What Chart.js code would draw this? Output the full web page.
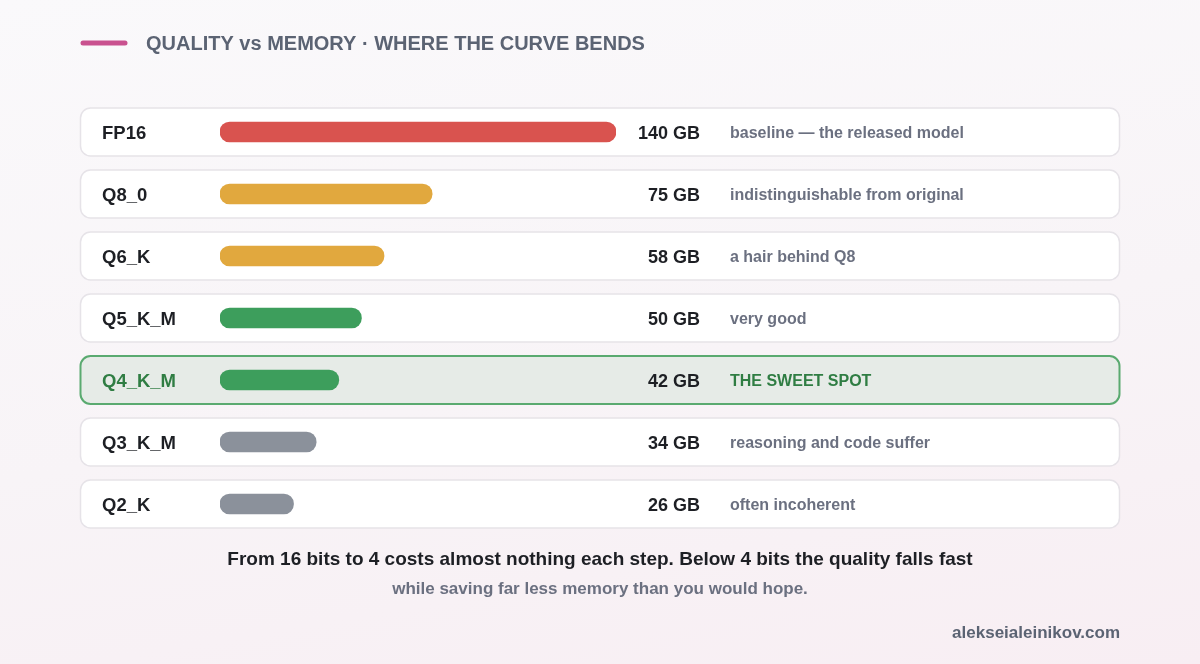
<!DOCTYPE html>
<html lang="en">
<head>
    <meta charset="UTF-8">
    <title>Quality vs Memory</title>
    <style>
        html, body {
            margin: 0;
            padding: 0;
        }
        body {
            width: 1200px;
            height: 664px;
            overflow: hidden;
            font-family: "Liberation Sans", Arial, Helvetica, sans-serif;
            background: linear-gradient(170deg, #faf9fb 0%, #f8f4f7 55%, #f8eef3 100%);
            position: relative;
        }
        .wrap {
            position: absolute;
            left: 0;
            top: 0;
            width: 1200px;
            height: 664px;
        }
    </style>
    <script src="https://cdn.jsdelivr.net/npm/chart.js"></script>
</head>
<body>
    <div class="wrap">
        <canvas id="quantChart" width="1200" height="664"></canvas>
    </div>

    <script>
        // data
        const quantLabels = ['FP16', 'Q8_0', 'Q6_K', 'Q5_K_M', 'Q4_K_M', 'Q3_K_M', 'Q2_K'];
        const memoryGB = [140, 75, 58, 50, 42, 34, 26];
        const qualityNotes = [
            'baseline \u2014 the released model',
            'indistinguishable from original',
            'a hair behind Q8',
            'very good',
            'THE SWEET SPOT',
            'reasoning and code suffer',
            'often incoherent'
        ];
        const barColors = ['#d9534f', '#e1a83e', '#e1a83e', '#3d9e5c', '#3d9e5c', '#8b919b', '#8b919b'];
        const highlightIndex = 4;

        const titleText = 'QUALITY vs MEMORY \u00b7 WHERE THE CURVE BENDS';
        const captionText = 'From 16 bits to 4 costs almost nothing each step. Below 4 bits the quality falls fast';
        const subCaptionText = 'while saving far less memory than you would hope.';
        const footerText = 'alekseialeinikov.com';

        const FONT = '"Liberation Sans", Arial, Helvetica, sans-serif';

        function roundRect(ctx, x, y, w, h, r) {
            ctx.beginPath();
            ctx.moveTo(x + r, y);
            ctx.lineTo(x + w - r, y);
            ctx.arcTo(x + w, y, x + w, y + r, r);
            ctx.lineTo(x + w, y + h - r);
            ctx.arcTo(x + w, y + h, x + w - r, y + h, r);
            ctx.lineTo(x + r, y + h);
            ctx.arcTo(x, y + h, x, y + h - r, r);
            ctx.lineTo(x, y + r);
            ctx.arcTo(x, y, x + r, y, r);
            ctx.closePath();
        }

        // cards behind each row
        const rowCards = {
            id: 'rowCards',
            beforeDatasetsDraw(chart) {
                const ctx = chart.ctx;
                const y = chart.scales.y;
                ctx.save();
                quantLabels.forEach((lab, i) => {
                    const cy = y.getPixelForValue(i);
                    const hl = i === highlightIndex;
                    roundRect(ctx, 80.5, cy - 24, 1039, 48, 10);
                    ctx.fillStyle = hl ? '#e6ebe7' : '#ffffff';
                    ctx.fill();
                    ctx.lineWidth = hl ? 2 : 1.5;
                    ctx.strokeStyle = hl ? '#5aaa70' : '#e6e3e8';
                    ctx.stroke();
                });
                ctx.restore();
            }
        };

        // labels, values, notes and the surrounding texts
        const rowTexts = {
            id: 'rowTexts',
            afterDraw(chart) {
                const ctx = chart.ctx;
                const y = chart.scales.y;
                ctx.save();
                ctx.textBaseline = 'middle';
                quantLabels.forEach((lab, i) => {
                    const cy = y.getPixelForValue(i) + 2;
                    const hl = i === highlightIndex;

                    ctx.textAlign = 'left';
                    ctx.font = 'bold 18.5px ' + FONT;
                    ctx.fillStyle = hl ? '#2f7d43' : '#1d1f24';
                    ctx.fillText(lab, 102, cy);

                    ctx.textAlign = 'right';
                    ctx.font = 'bold 18px ' + FONT;
                    ctx.fillStyle = '#1d1f24';
                    ctx.fillText(memoryGB[i] + ' GB', 700, cy);

                    ctx.textAlign = 'left';
                    ctx.font = 'bold 16px ' + FONT;
                    ctx.fillStyle = hl ? '#2f7d43' : '#6b7080';
                    ctx.fillText(qualityNotes[i], 730, cy);
                });

                // title
                ctx.strokeStyle = '#c9518f';
                ctx.lineWidth = 5;
                ctx.lineCap = 'round';
                ctx.beginPath();
                ctx.moveTo(83, 43);
                ctx.lineTo(125, 43);
                ctx.stroke();

                ctx.textAlign = 'left';
                ctx.font = 'bold 20px ' + FONT;
                ctx.fillStyle = '#5b6373';
                ctx.fillText(titleText, 146, 44);

                ctx.textAlign = 'center';
                ctx.font = 'bold 19px ' + FONT;
                ctx.fillStyle = '#1d1f24';
                ctx.fillText(captionText, 600, 560);

                ctx.font = 'bold 17px ' + FONT;
                ctx.fillStyle = '#6b7080';
                ctx.fillText(subCaptionText, 600, 589);

                ctx.textAlign = 'right';
                ctx.font = 'bold 17px ' + FONT;
                ctx.fillStyle = '#5b6373';
                ctx.fillText(footerText, 1120, 633);
                ctx.restore();
            }
        };

        const ctx = document.getElementById('quantChart').getContext('2d');
        const quantChart = new Chart(ctx, {
            type: 'bar',
            data: {
                labels: quantLabels,
                datasets: [{
                    data: memoryGB,
                    backgroundColor: barColors,
                    borderWidth: 0,
                    borderRadius: 10,
                    borderSkipped: false,
                    barThickness: 20
                }]
            },
            options: {
                indexAxis: 'y',
                responsive: false,
                animation: false,
                layout: {
                    padding: { left: 220, right: 584, top: 101, bottom: 129 }
                },
                scales: {
                    x: { display: false, min: 0, max: 140 },
                    y: { display: false }
                },
                plugins: {
                    legend: { display: false },
                    tooltip: { enabled: false }
                }
            },
            plugins: [rowCards, rowTexts]
        });
    </script>
</body>
</html>
